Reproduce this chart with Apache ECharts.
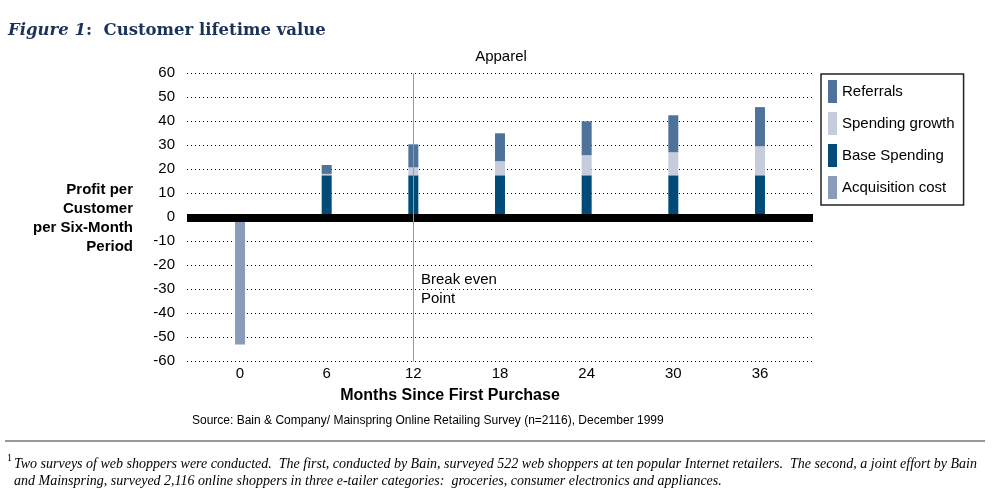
<!DOCTYPE html>
<html>
<head>
<meta charset="utf-8">
<script src="https://cdn.jsdelivr.net/npm/echarts@6/dist/echarts.min.js"></script>
<style>
html,body{margin:0;padding:0;background:#fff;}
#chart{width:993px;height:491px;}
</style>
</head>
<body>
<div id="chart"></div>
<script>
var months = ['0', '6', '12', '18', '24', '30', '36'];
var acquisitionCost = [-53, null, null, null, null, null, null];
var baseSpending = [null, 17.5, 17.5, 17.5, 17.5, 17.5, 17.5];
var spendingGrowth = [null, 0.6, 3.3, 5.9, 8.4, 9.6, 12.1];
var referrals = [null, 3.7, 9.6, 11.6, 14.1, 15.4, 16.3];
var yTicks = [-60, -50, -40, -30, -20, -10, 0, 10, 20, 30, 40, 50, 60];
var breakEvenMonth = '12';

var chart = echarts.init(document.getElementById('chart'));
var sans = 'Liberation Sans, Arial, sans-serif';
var serif = 'Liberation Serif, Times New Roman, serif';
var yMin = yTicks[0], yMax = yTicks[yTicks.length - 1];

chart.setOption({
  animation: false,
  backgroundColor: '#fff',
  grid: [
    { left: 187, right: 180, top: 73.3, bottom: 129.7 },
    { left: 196.7, right: 189.7, top: 73.3, bottom: 129.7 }
  ],
  xAxis: [
    { gridIndex: 0, type: 'value', min: 0, max: 1, show: false },
    {
      gridIndex: 1, type: 'category', data: months,
      axisLine: { show: false },
      axisTick: { show: false },
      splitLine: { show: false },
      axisLabel: { color: '#000', fontFamily: sans, fontSize: 15, margin: 5 }
    }
  ],
  yAxis: [
    {
      gridIndex: 0, type: 'value',
      min: yMin, max: yMax, interval: 10,
      axisLine: { show: false },
      axisTick: { show: false },
      axisLabel: { color: '#000', fontFamily: sans, fontSize: 15, margin: 12 },
      splitLine: { show: true, lineStyle: { color: '#000', type: [1, 3], width: 1 } }
    },
    { gridIndex: 1, type: 'value', min: yMin, max: yMax, interval: 10, show: false, splitLine: { show: false } }
  ],
  legend: {
    orient: 'vertical',
    left: 821, top: 74,
    data: ['Referrals', 'Spending growth', 'Base Spending', 'Acquisition cost'],
    itemWidth: 9, itemHeight: 23, itemGap: 9,
    padding: [6, 9, 6, 7],
    borderColor: '#222', borderWidth: 1.5,
    icon: 'rect',
    textStyle: { color: '#000', fontFamily: sans, fontSize: 15 }
  },
  series: [
    { name: 'Acquisition cost', type: 'bar', xAxisIndex: 1, yAxisIndex: 1, stack: 's', barWidth: 10, data: acquisitionCost, itemStyle: { color: '#8A9DB8' } },
    { name: 'Base Spending', type: 'bar', xAxisIndex: 1, yAxisIndex: 1, stack: 's', barWidth: 10, data: baseSpending, itemStyle: { color: '#004B78' } },
    { name: 'Spending growth', type: 'bar', xAxisIndex: 1, yAxisIndex: 1, stack: 's', barWidth: 10, data: spendingGrowth, itemStyle: { color: '#C5CCDC' } },
    { name: 'Referrals', type: 'bar', xAxisIndex: 1, yAxisIndex: 1, stack: 's', barWidth: 10, data: referrals, itemStyle: { color: '#4E7299' } },
    {
      type: 'line', xAxisIndex: 0, yAxisIndex: 0, data: [], z: 10, silent: true,
      markLine: {
        silent: true, symbol: 'none', animation: false,
        label: { show: false },
        data: [ { yAxis: 0, lineStyle: { color: '#000', width: 8, type: 'solid' } } ]
      }
    },
    {
      type: 'line', xAxisIndex: 1, yAxisIndex: 1, data: [], z: 12, silent: true,
      markLine: {
        silent: true, symbol: 'none', animation: false,
        label: { show: false },
        data: [ { xAxis: breakEvenMonth, lineStyle: { color: '#8A9DB8', width: 1, type: 'solid' } } ]
      }
    }
  ],
  graphic: [
    { type: 'text', left: 8, top: 22, style: {
      text: '{i|Figure 1}{b|:  Customer lifetime value}',
      rich: {
        i: { fontFamily: 'DejaVu Serif', fontStyle: 'italic', fontWeight: 'bold', fontSize: 16.5, fill: '#1B3358' },
        b: { fontFamily: 'DejaVu Serif', fontWeight: 'bold', fontSize: 16.5, fill: '#1B3358' }
      } } },
    { type: 'text', x: 501, y: 57, style: { text: 'Apparel', fontFamily: sans, fontSize: 15, fill: '#000', textAlign: 'center', textVerticalAlign: 'middle' } },
    { type: 'text', x: 133, y: 180, style: { text: 'Profit per\nCustomer\nper Six-Month\nPeriod', fontFamily: sans, fontWeight: 'bold', fontSize: 15, lineHeight: 19, fill: '#000', textAlign: 'right' } },
    { type: 'text', x: 421, y: 270, style: { text: 'Break even\nPoint', fontFamily: sans, fontSize: 15, lineHeight: 19, fill: '#000' } },
    { type: 'text', x: 450, y: 396, style: { text: 'Months Since First Purchase', fontFamily: sans, fontWeight: 'bold', fontSize: 16, fill: '#000', textAlign: 'center', textVerticalAlign: 'middle' } },
    { type: 'text', x: 192, y: 421, style: { text: 'Source: Bain & Company/ Mainspring Online Retailing Survey (n=2116), December 1999', fontFamily: sans, fontSize: 12, fill: '#000', textVerticalAlign: 'middle' } },
    { type: 'line', shape: { x1: 5, y1: 441, x2: 985, y2: 441 }, style: { stroke: '#333', lineWidth: 1 } },
    { type: 'text', x: 7, y: 453, style: { text: '1', fontFamily: serif, fontSize: 10, fill: '#000' } },
    { type: 'text', x: 14, y: 456, style: {
      text: 'Two surveys of web shoppers were conducted.  The first, conducted by Bain, surveyed 522 web shoppers at ten popular Internet retailers.  The second, a joint effort by Bain\nand Mainspring, surveyed 2,116 online shoppers in three e-tailer categories:  groceries, consumer electronics and appliances.',
      fontFamily: serif, fontStyle: 'italic', fontSize: 14, lineHeight: 17, fill: '#000' } }
  ]
});
</script>
</body>
</html>
